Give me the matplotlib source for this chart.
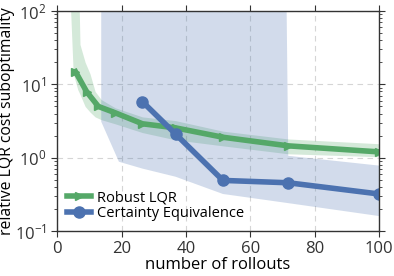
import numpy as np
import matplotlib
matplotlib.use('Agg')
import matplotlib.pyplot as plt

plt.rcParams['font.family'] = ['Open Sans', 'DejaVu Sans']

# median suboptimality per number of rollouts
robust_x = [5.7, 9.2, 12.8, 18, 26.5, 36.8, 51.5, 71.8, 100]
robust_med = [14.9, 7.9, 5.0, 4.1, 2.9, 2.55, 1.9, 1.45, 1.2]

ce_x = [26.5, 36.8, 51.5, 71.8, 100]
ce_med = [5.8, 2.1, 0.49, 0.455, 0.32]

# percentile bands (huge values = unbounded / unstable)
robust_band_x = [4.2, 5.0, 6.4, 7.1, 8.7, 10.2, 11.8, 13.7, 18, 26.5, 36.8, 51.5, 71.8, 100]
robust_lo = [100, 14, 8.5, 7.3, 5.0, 4.2, 3.6, 3.3, 2.9, 2.2, 1.75, 1.45, 1.13, 1.03]
robust_hi = [1e3, 1e3, 1e3, 35, 20, 14, 8, 6.2, 4.8, 3.6, 3.2, 2.3, 1.8, 1.55]

ce_band_x = [13.7, 19.2, 26.5, 36.8, 51.5, 71.8, 100]
ce_lo = [3.1, 0.88, 0.71, 0.55, 0.32, 0.24, 0.16]
ce_hi = [1e80, 1e80, 1e80, 1e80, 1e80, 1.06, 0.78]

green = '#55a868'
blue = '#4c72b0'

fig = plt.figure(figsize=(3.94, 2.76), dpi=100)
ax = fig.add_axes([0.145, 0.163, 0.817, 0.797])

ax.fill_between(robust_band_x, robust_lo, robust_hi, color=green, alpha=0.25, lw=0)
ax.fill_between(ce_band_x, ce_lo, ce_hi, color=blue, alpha=0.25, lw=0)

ax.plot(robust_x, robust_med, color=green, lw=4, marker='>', ms=6, label='Robust LQR')
ax.plot(ce_x, ce_med, color=blue, lw=4, marker='o', ms=8, label='Certainty Equivalence')

ax.set_yscale('log')
ax.set_xlim(0, 100)
ax.set_ylim(0.1, 100)
ax.set_xticks([0, 20, 40, 60, 80, 100])

ax.grid(True, which='major', ls=(0, (5, 4)), color='#d5d5d5', lw=0.8)
ax.set_axisbelow(True)

ax.tick_params(which='both', direction='out', top=True, right=True, labelsize=12, colors='#333333')
ax.tick_params(which='major', length=4)
ax.tick_params(which='minor', length=2)
for s in ax.spines.values():
    s.set_color('#333333')
    s.set_linewidth(1.0)

ax.set_xlabel('number of rollouts', fontsize=12, labelpad=0)
ax.set_ylabel('relative LQR cost suboptimality', fontsize=11.3, labelpad=0)

ax.legend(loc='lower left', frameon=False, fontsize=10.5, handlelength=1.6,
          handletextpad=0.4, borderaxespad=0.3, labelspacing=0.05)

fig.savefig('out.png', dpi=100)
